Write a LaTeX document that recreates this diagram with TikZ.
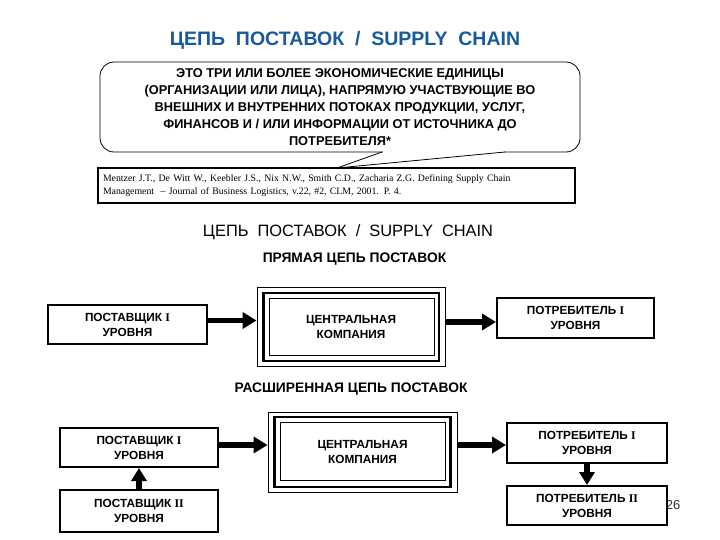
\documentclass[tikz,border=0pt]{standalone}
\usepackage{fontspec}
\setmainfont{Liberation Sans}
\newfontfamily\serifrm{Liberation Serif}
\usetikzlibrary{arrows.meta,calc}
\definecolor{titleblue}{RGB}{25,90,155}
\newcommand{\rI}{{\serifrm I}}
\newcommand{\rII}{{\serifrm II}}
\tikzset{
  box/.style={draw, line width=2pt, fill=white, align=center, inner sep=0pt,
    font=\bfseries\fontsize{11.8}{15}\selectfont},
  frameout/.style={draw, line width=0.8pt, fill=white, align=center, inner sep=0pt,
    font=\bfseries\fontsize{11.8}{15}\selectfont},
  framethick/.style={line width=2.6pt},
  framethin/.style={line width=0.8pt},
  bigarrow/.style={line width=5.5pt, -{Triangle[length=14pt,width=16pt]}},
  varrow/.style={line width=6pt, -{Triangle[length=13pt,width=15pt]}},
  heading/.style={font=\bfseries\fontsize{13.8}{16}\selectfont},
}
\begin{document}
\begin{tikzpicture}[x=1pt,y=-1pt]
\useasboundingbox (0,0) rectangle (720,540);
% titles
\node (t1) at (345,40) {\color{titleblue}\bfseries\fontsize{19.5}{22}\selectfont ЦЕПЬ\ \ ПОСТАВОК\ \ /\ \ SUPPLY\ \ CHAIN};
% callout
\node[draw, line width=0.8pt, rounded corners=14pt, minimum width=480pt, minimum height=90pt,
  align=center, inner sep=0pt, font=\bfseries\fontsize{12.8}{17}\selectfont] (def) at (340,107)
  {ЭТО ТРИ ИЛИ БОЛЕЕ ЭКОНОМИЧЕСКИЕ ЕДИНИЦЫ\\(ОРГАНИЗАЦИИ ИЛИ ЛИЦА), НАПРЯМУЮ УЧАСТВУЮЩИЕ ВО\\ВНЕШНИХ И ВНУТРЕННИХ ПОТОКАХ ПРОДУКЦИИ, УСЛУГ,\\ФИНАНСОВ И / ИЛИ ИНФОРМАЦИИ ОТ ИСТОЧНИКА ДО\\ПОТРЕБИТЕЛЯ*};
\coordinate (tip) at (337,168);
\coordinate (tl) at (382,152);
\coordinate (tr) at (505,152);
\fill[white] (383,150.5) rectangle (504,153.5);
\draw[line width=0.8pt] (tl) -- (tip) -- (tr);
% reference
\node[draw, line width=2.5pt, fill=white, minimum height=35pt, text width=467pt, inner xsep=5pt, inner ysep=0pt,
  align=left, font=\serifrm\fontsize{9.8}{12.5}\selectfont] (ref) at (336.5,185.5)
  {Mentzer J.T., De Witt W., Keebler J.S., Nix N.W., Smith C.D., Zacharia Z.G. Defining Supply Chain\\Management\ \ – Journal of Business Logistics, v.22, \#2, CLM, 2001. P. 4.};
\node (t2) at (348,232) {\fontsize{16.4}{19}\selectfont ЦЕПЬ\ \ ПОСТАВОК\ \ /\ \ SUPPLY\ \ CHAIN};
\node[heading] (h1) at (354.5,259) {ПРЯМАЯ ЦЕПЬ ПОСТАВОК};
% row 1
\node[box, minimum width=159pt, minimum height=39pt] (s1) at (127.5,324.5) {ПОСТАВЩИК \rI\\УРОВНЯ};
\node[frameout, minimum width=188pt, minimum height=79pt] (c1) at (351,326.5) {ЦЕНТРАЛЬНАЯ\\КОМПАНИЯ};
\draw[framethick] ($(c1.north west)+(7,6.5)$) rectangle ($(c1.south east)+(-6.5,-5.5)$);
\draw[framethin] ($(c1.north west)+(13,11.5)$) rectangle ($(c1.south east)+(-11.5,-11)$);
\node[box, minimum width=157pt, minimum height=40pt] (k1) at (575.5,318) {ПОТРЕБИТЕЛЬ \rI\\УРОВНЯ};
\draw[bigarrow] ($(s1.east)+(0,-4)$) -- ($(s1.east -| c1.west)+(0,-4)$);
\draw[bigarrow] ($(k1.west -| c1.east)+(0,4)$) -- ($(k1.west)+(0,4)$);
% row 2
\node[heading] (h2) at (351,389) {РАСШИРЕННАЯ ЦЕПЬ ПОСТАВОК};
\node[font=\fontsize{13}{15}\selectfont, text=black!80] (pg) at (673,505) {26};
\node[box, minimum width=158pt, minimum height=39pt] (s2) at (139,447.5) {ПОСТАВЩИК \rI\\УРОВНЯ};
\node[box, minimum width=158pt, minimum height=42pt] (s3) at (139,511) {ПОСТАВЩИК \rII\\УРОВНЯ};
\node[frameout, minimum width=189pt, minimum height=80pt] (c2) at (362.5,452) {ЦЕНТРАЛЬНАЯ\\КОМПАНИЯ};
\draw[framethick] ($(c2.north west)+(7,5.5)$) rectangle ($(c2.south east)+(-7,-5.5)$);
\draw[framethin] ($(c2.north west)+(12.5,11)$) rectangle ($(c2.south east)+(-12,-12)$);
\node[box, minimum width=160pt, minimum height=40pt] (k2) at (587,443) {ПОТРЕБИТЕЛЬ \rI\\УРОВНЯ};
\node[box, minimum width=160pt, minimum height=39pt] (k3) at (587,505.5) {ПОТРЕБИТЕЛЬ \rII\\УРОВНЯ};
\draw[bigarrow] ($(s2.east)+(0,-2.5)$) -- ($(s2.east -| c2.west)+(0,-2.5)$);
\draw[bigarrow] ($(k2.west -| c2.east)+(0,2)$) -- ($(k2.west)+(0,2)$);
\draw[varrow] (s3.north) -- (s2.south);
\draw[varrow] (k2.south) -- (k3.north);
\end{tikzpicture}
\end{document}
